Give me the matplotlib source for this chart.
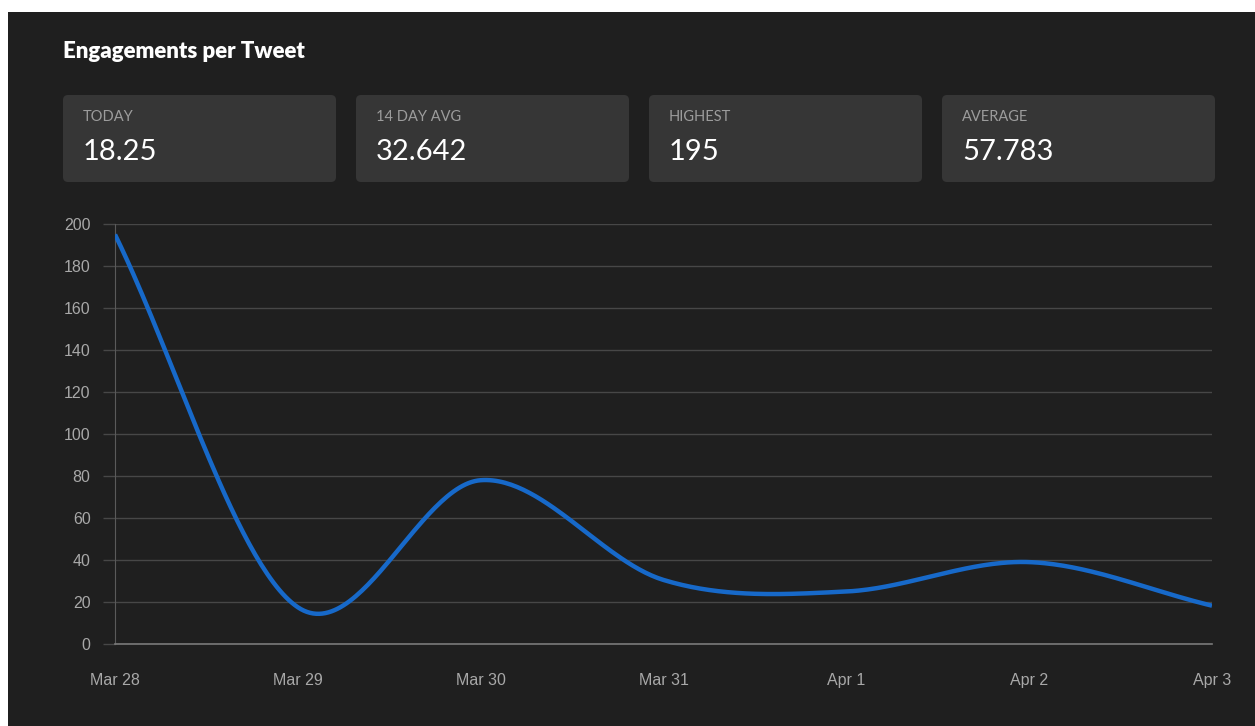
import numpy as np
import matplotlib
matplotlib.use('Agg')
import matplotlib.pyplot as plt
from matplotlib.patches import FancyBboxPatch, Rectangle

# data
days = ['Mar 28', 'Mar 29', 'Mar 30', 'Mar 31', 'Apr 1', 'Apr 2', 'Apr 3']
engagements = [195, 17.5, 78, 30.5, 25, 39, 18.25]
card_labels = ['TODAY', '14 DAY AVG', 'HIGHEST', 'AVERAGE']
card_values = ['18.25', '32.642', '195', '57.783']
y_ticks = list(range(0, 201, 20))

W, H = 1255, 726
bg = '#1f1f1f'
card_bg = '#363636'
grid_c = '#474747'
line_c = '#1769c9'


def catmull_rom(y, n=60):
    # cubic hermite with central-difference tangents
    y = np.asarray(y, dtype=float)
    m = np.zeros_like(y)
    m[1:-1] = (y[2:] - y[:-2]) / 2
    m[0] = y[1] - y[0]
    m[-1] = y[-1] - y[-2]
    xs, ys = [], []
    for i in range(len(y) - 1):
        t = np.linspace(0, 1, n, endpoint=(i == len(y) - 2))
        h00 = 2 * t**3 - 3 * t**2 + 1
        h10 = t**3 - 2 * t**2 + t
        h01 = -2 * t**3 + 3 * t**2
        h11 = t**3 - t**2
        xs.append(i + t)
        ys.append(h00 * y[i] + h10 * m[i] + h01 * y[i + 1] + h11 * m[i + 1])
    return np.concatenate(xs), np.concatenate(ys)


fig = plt.figure(figsize=(W / 100, H / 100), dpi=100)
fig.patch.set_facecolor(bg)

# white margin strips (top and left) as in the screenshot
fig.add_artist(Rectangle((0, 1 - 12 / H), 1, 12 / H, transform=fig.transFigure,
                         facecolor='white', edgecolor='none'))
fig.add_artist(Rectangle((0, 0), 8 / W, 1, transform=fig.transFigure,
                         facecolor='white', edgecolor='none'))

fig.text(63 / W, 1 - 51 / H, 'Engagements per Tweet', color='white',
         fontsize=16, fontweight='heavy', family='Lato', va='center', ha='left')

card_x = [63, 356, 649, 942]
card_w = 273
for i in range(4):
    x0 = card_x[i]
    box = FancyBboxPatch((x0 / W, 1 - 182 / H), card_w / W, 87 / H,
                         boxstyle='round,pad=0,rounding_size=0.004',
                         transform=fig.transFigure, facecolor=card_bg,
                         edgecolor='none', mutation_aspect=W / H)
    fig.add_artist(box)
    fig.text((x0 + 20) / W, 1 - 117 / H, card_labels[i], color='#9c9c9c',
             fontsize=10.5, family='Lato', va='center', ha='left')
    fig.text((x0 + 20) / W, 1 - 152 / H, card_values[i], color='white',
             fontsize=21, family='Lato', fontweight='normal', va='center', ha='left')

ax = fig.add_axes([115 / W, 82 / H, (1212 - 115) / W, (644 - 224) / H])
ax.set_facecolor(bg)

xs, ys = catmull_rom(engagements)
ax.plot(xs, ys, color=line_c, linewidth=3.2, solid_capstyle='butt', zorder=3)

ax.set_xlim(0, len(days) - 1)
ax.set_ylim(0, 200)
ax.set_xticks(range(len(days)))
ax.set_xticklabels(days)
ax.set_yticks(y_ticks)

ax.yaxis.grid(True, color=grid_c, linewidth=1)
ax.set_axisbelow(True)
for s in ['top', 'right']:
    ax.spines[s].set_visible(False)
ax.spines['left'].set_color('#5a5a5a')
ax.spines['bottom'].set_color('#7a7a7a')
ax.spines['bottom'].set_linewidth(1.2)

ax.tick_params(axis='y', length=8.6, width=1, color=grid_c, pad=9,
               labelcolor='#a8a8a8', labelsize=11.5)
ax.tick_params(axis='x', length=0, pad=21, labelcolor='#a8a8a8', labelsize=11.5)
for lbl in ax.get_xticklabels() + ax.get_yticklabels():
    lbl.set_family('Liberation Sans')

fig.savefig('out.png', dpi=100, facecolor=fig.get_facecolor())
